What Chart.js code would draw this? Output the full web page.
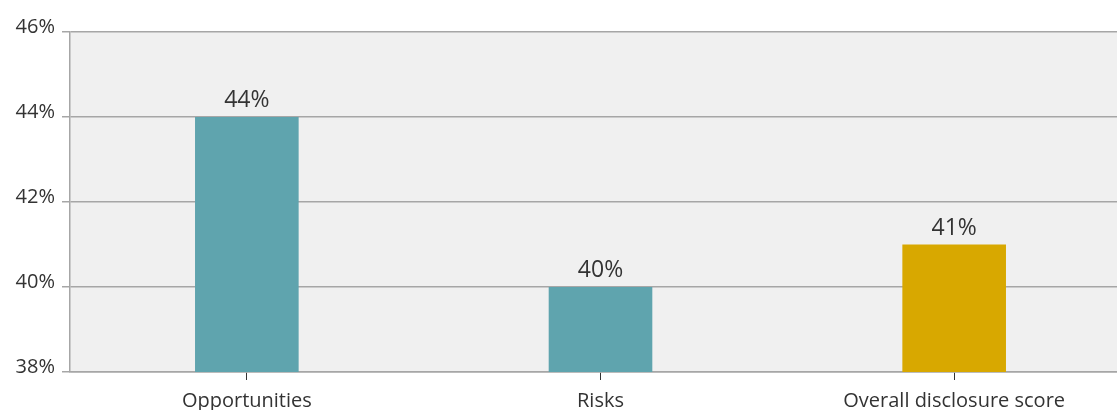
<!DOCTYPE html>
<html>
<head>
<meta charset="utf-8">
<script src="https://cdn.jsdelivr.net/npm/chart.js@4.4.1/dist/chart.umd.min.js"></script>
<style>
  html, body { margin: 0; padding: 0; background: #fff; overflow: hidden; }
  #wrap { width: 1131px; height: 410px; }
</style>
</head>
<body>
<div id="wrap"><canvas id="chart"></canvas></div>
<script>
const categories = ['Opportunities', 'Risks', 'Overall disclosure score'];
const scores = [44, 40, 41];
const barColors = ['#5fa4ae', '#5fa4ae', '#d8a800'];
const yTicks = [38, 40, 42, 44, 46];

const textColor = '#333333';
const fontFamily = '"Open Sans", "Noto Sans", sans-serif';

// grey plot background behind the bars
const plotBackground = {
  id: 'plotBackground',
  beforeDraw(chart) {
    const { ctx, chartArea: a } = chart;
    ctx.save();
    ctx.fillStyle = '#f0f0f0';
    ctx.fillRect(a.left, a.top, a.right - a.left, a.bottom - a.top);
    ctx.restore();
  }
};

// value labels above each bar
const valueLabels = {
  id: 'valueLabels',
  afterDatasetsDraw(chart) {
    const { ctx } = chart;
    const meta = chart.getDatasetMeta(0);
    ctx.save();
    ctx.fillStyle = textColor;
    ctx.font = '23px ' + fontFamily;
    ctx.textAlign = 'center';
    ctx.textBaseline = 'bottom';
    meta.data.forEach((bar, i) => {
      ctx.fillText(scores[i] + '%', bar.x, bar.y - 5);
    });
    ctx.restore();
  }
};

new Chart(document.getElementById('chart'), {
  type: 'bar',
  data: {
    labels: categories,
    datasets: [{
      data: scores,
      backgroundColor: barColors,
      barPercentage: 0.293,
      categoryPercentage: 1
    }]
  },
  options: {
    responsive: true,
    maintainAspectRatio: false,
    animation: false,
    layout: { padding: { top: 32, right: 0, left: 0, bottom: 0 } },
    plugins: { legend: { display: false }, tooltip: { enabled: false } },
    scales: {
      x: {
        grid: { offset: false, drawOnChartArea: false, drawTicks: true, tickLength: 8, tickColor: '#333', lineWidth: 1 },
        border: { color: '#a6a6a6', width: 1.5 },
        ticks: { color: textColor, font: { family: fontFamily, size: 20 }, padding: 9, maxRotation: 0 },
        afterFit(scale) { scale.height = 38; }
      },
      y: {
        min: 38,
        max: 46,
        afterBuildTicks(scale) { scale.ticks = yTicks.map(v => ({ value: v })); },
        grid: { color: '#a6a6a6', lineWidth: 1.5, tickLength: 8, tickColor: '#a6a6a6' },
        border: { color: '#a6a6a6', width: 1.5 },
        ticks: {
          color: textColor,
          // second empty line lifts the label a little above its grid line
          font: { family: fontFamily, size: 20, lineHeight: 0.5 },
          padding: 7,
          callback: v => [v + '%', '']
        },
        afterFit(scale) { scale.width = 70; }
      }
    }
  },
  plugins: [plotBackground, valueLabels]
});
</script>
</body>
</html>
